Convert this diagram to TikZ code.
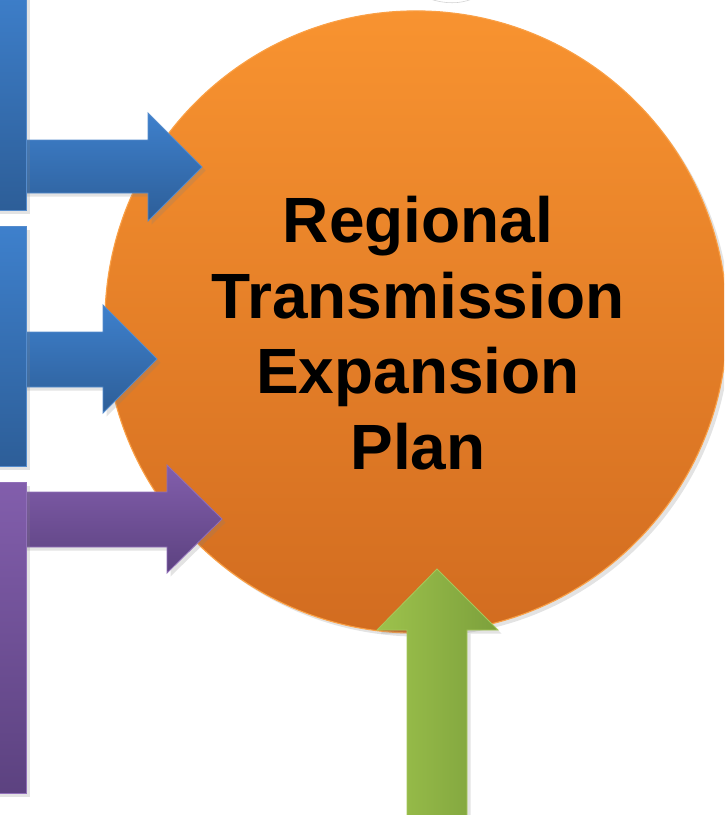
\documentclass[tikz,border=0pt]{standalone}
\usepackage{fontspec}
\newfontfamily\planfont{Liberation Sans}
\usepackage{tikz}
\usetikzlibrary{shapes,arrows,positioning}
\usetikzlibrary{shadows,calc}
\pgfdeclarelayer{shadow}
\pgfsetlayers{shadow,main}
\definecolor{orangetop}{RGB}{248,147,48}
\definecolor{orangebot}{RGB}{210,108,32}
\definecolor{orangeedge}{RGB}{250,160,70}
\definecolor{bluetop}{RGB}{62,128,204}
\definecolor{bluebot}{RGB}{45,94,152}
\definecolor{blueedge}{RGB}{85,140,205}
\definecolor{purpletop}{RGB}{130,94,172}
\definecolor{purplebot}{RGB}{92,66,128}
\definecolor{purpleedge}{RGB}{145,112,185}
\definecolor{greenleft}{RGB}{157,194,76}
\definecolor{greenright}{RGB}{124,160,60}
\definecolor{greenedge}{RGB}{165,200,90}
\tikzstyle{soft} = [drop shadow={opacity=0.22, shadow xshift=2.5pt, shadow yshift=-2.5pt}]
\tikzstyle{hub} = [circle, minimum size=15.55cm, inner sep=0, draw=orangeedge, line width=0.8pt, top color=orangetop, bottom color=orangebot, soft]
\tikzstyle{title} = [inner sep=0, align=center, font=\planfont\bfseries\fontsize{45.5}{53.85}\selectfont]
\tikzstyle{bluefeed} = [draw=blueedge, line width=0.6pt, top color=bluetop, bottom color=bluebot, soft]
\tikzstyle{purplefeed} = [draw=purpleedge, line width=0.6pt, top color=purpletop, bottom color=purplebot, soft]
\tikzstyle{greenfeed} = [draw=greenedge, line width=0.6pt, left color=greenleft, right color=greenright, soft]
\begin{document}
\begin{tikzpicture}[x=0.025cm, y=-0.025cm]
		\useasboundingbox (0,0) rectangle (724,815);
		\clip (0,0) rectangle (724,815);
		%\draw[help lines, step=50] (0,0) grid (724,815);
		\draw[black!18] (430,-1) .. controls (445,4) and (460,4) .. (472,-1);
		\node[hub] (plan) at (416,322) {};
		\node[title] (ttl) at (418,333) {Regional\\Transmission\\Expansion\\Plan};
		% feeds from the left
		\draw[bluefeed] (20,140) -- (148,140) -- (148,113) -- (202,167) -- (148,221) -- (148,193) -- (20,193) -- cycle;
		\draw[bluefeed] (20,332) -- (103,332) -- (103,305) -- (157,359) -- (103,413) -- (103,387) -- (20,387) -- cycle;
		\draw[purplefeed] (20,492) -- (167,492) -- (167,465) -- (222,519) -- (167,573) -- (167,547) -- (20,547) -- cycle;
		% feed from below
		\draw[greenfeed] (407,830) -- (407,630) -- (377,630) -- (437,569) -- (498,630) -- (467,630) -- (467,830) -- cycle;
		% bars
		\node[bluefeed, inner sep=0, anchor=north west, minimum width=31*0.025cm, minimum height=230*0.025cm] (src1) at (-5,-20) {};
		\node[bluefeed, inner sep=0, anchor=north west, minimum width=31*0.025cm, minimum height=240*0.025cm] (src2) at (-5,226) {};
		\node[purplefeed, inner sep=0, anchor=north west, minimum width=31*0.025cm, minimum height=311*0.025cm] (src3) at (-5,482) {};
\end{tikzpicture}
\end{document}
